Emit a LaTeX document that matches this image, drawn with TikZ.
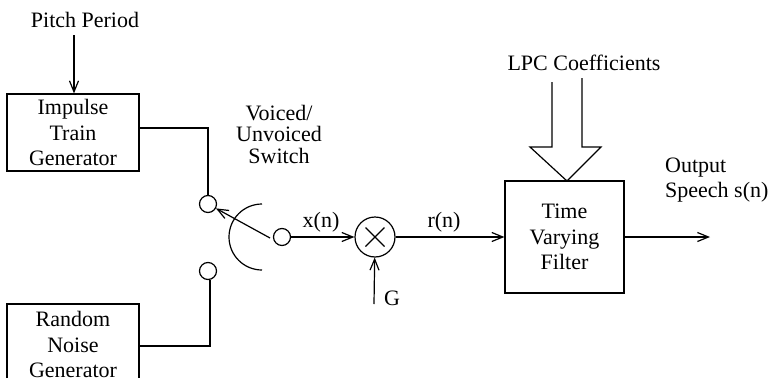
\documentclass[tikz,border=0pt]{standalone}
\usepackage{fontspec}
\setmainfont{Liberation Serif}
\usetikzlibrary{positioning, calc, arrows.meta}
\tikzset{
	blockbox/.style={draw, line width=1.2pt, align=center, inner sep=0pt},
	port/.style={draw, line width=1.2pt, circle, minimum size=17pt, inner sep=0pt},
	lbl/.style={align=center, inner sep=0pt, font=\fontsize{22}{25.5}\selectfont},
	sig/.style={line width=1.2pt, -{Straight Barb[length=11pt,width=9pt]}},
	wire/.style={line width=1.2pt}
}
\begin{document}
\begin{tikzpicture}[x=1pt,y=-1pt]
	\useasboundingbox (0,0) rectangle (772,378);
	\node (n1) [blockbox, lbl, minimum width=132pt, minimum height=77pt] at (73,132.5) {Impulse\\Train\\Generator};
	\draw [wire] (7,378) -- (7,304) -- (139,304) -- (139,378);
	\node (n2) [lbl] at (73,344.5) {Random\\Noise\\Generator};
	\coordinate (n2e) at (139,346);
	\node (n3) [port] at (208,204) {};
	\node (n4) [port] at (208,271) {};
	\node (n5) [port] at (282,237) {};
	\node (n6) [port, minimum size=40pt] at (375,237) {};
	\draw [wire] (n6.center) ++(-9.5,-9.5) -- ++(19,19);
	\draw [wire] (n6.center) ++(9.5,-9.5) -- ++(-19,19);
	\node (n7) [blockbox, lbl, minimum width=119pt, minimum height=112pt] at (564.5,237) {Time\\Varying\\Filter};
	\node (l1) [lbl] at (85,20) {Pitch Period};
	\node (l2) [lbl, font=\fontsize{22}{21.5}\selectfont] at (279,134) {Voiced/\\Unvoiced\\Switch};
	\node (l3) [lbl] at (584,63) {LPC Coefficients};
	\node (l4) [lbl, align=left, anchor=west] at (665,180) {Output\\Speech s(n)};
	\node (l5) [lbl] at (321,222) {x(n)};
	\node (l6) [lbl] at (444,222) {r(n)};
	\node (l7) [lbl] at (392,298) {G};
	\coordinate (c1) at (74,35);
	\coordinate (c2) at (374,304);
	\coordinate (c3) at (710,237);
	\coordinate (c4) at (270,238);
	\draw [sig] (c1) -- (n1.north -| c1);
	\draw [wire] (n1.east |- 0,128) -| (n3);
	\draw [wire] (n2e) -| (n4.south -| 210,0);
	\draw [sig] (c4) -- (n3);
	\draw [wire] (262,204) arc (270:90:33);
	\draw [sig] (n5) -- (n6);
	\draw [sig] (c2) -- (n6);
	\draw [sig] (n6) -- (n7);
	\draw [sig] (n7) -- (c3);
	\draw [wire] (552,82) -- (552,147) -- (530,147) -- (567,181) -- (601,147) -- (582,147) -- (582,78);
\end{tikzpicture}
\end{document}
